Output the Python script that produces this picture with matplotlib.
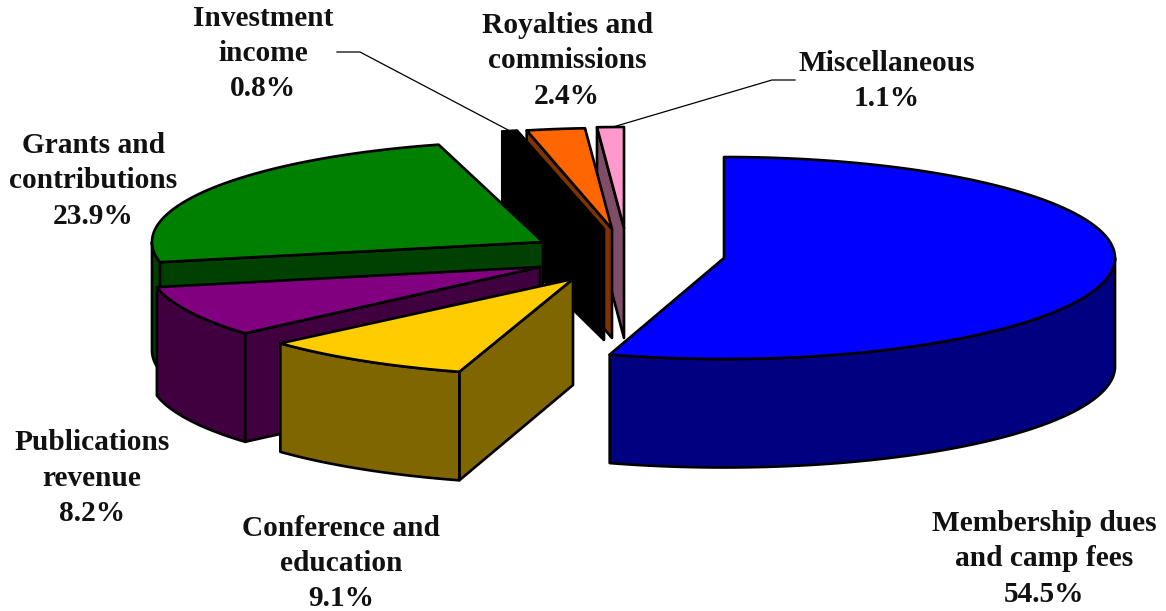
import numpy as np
import matplotlib
matplotlib.use("Agg")
import matplotlib.pyplot as plt
from matplotlib.patches import Polygon

# data (clockwise from 12 o'clock)
categories = ["Membership dues\nand camp fees", "Conference and\neducation", "Publications\nrevenue",
              "Grants and\ncontributions", "Investment\nincome", "Royalties and\ncommissions", "Miscellaneous"]
shares = [54.5, 9.1, 8.2, 23.9, 0.8, 2.4, 1.1]
top_colors = ["#0000FF", "#FFCC00", "#800080", "#008000", "#000000", "#FF6600", "#FF99CC"]
side_colors = ["#000080", "#806600", "#400040", "#004000", "#000000", "#803300", "#804D66"]

# layout in pixels and small projection corrections in degrees
apex_x = [724, 573, 540, 543, 604, 612, 624]
apex_y = [258, 279, 267, 242, 229, 229, 228]
apex_drop = [109, 106, 109, 109, 111, 109, 110]
radius_y = [101, 97, 101, 101, 101, 101, 101]
start_trim_deg = [0, 0.7, 0, 0, 0.4, 0, 0]
end_trim_deg = [0.8, -0.5, 0, 0, -0.25, 0, 0]
label_x = [1044, 341, 92, 93, 263, 567, 887]
label_y = [559, 563.5, 478, 181, 53.5, 61, 81]
draw_order = [6, 5, 4, 3, 2, 1, 0]
RX, H = 391, 108.5
LW = 1.9

fig = plt.figure(figsize=(11.66, 6.11), dpi=100)
ax = fig.add_axes([0, 0, 1, 1])
ax.set_xlim(0, 1166)
ax.set_ylim(611, 0)
ax.axis("off")

edges = np.cumsum([0] + shares) / sum(shares) * 2 * np.pi


def rim(i, a):
    return np.column_stack([apex_x[i] + RX * np.sin(a), apex_y[i] - radius_y[i] * np.cos(a)])


def poly(pts, color, z):
    ax.add_patch(Polygon(pts, closed=True, facecolor=color, edgecolor="black",
                         linewidth=LW, joinstyle="round", zorder=z))


for z, i in enumerate(draw_order):
    a0 = edges[i] + np.radians(start_trim_deg[i])
    a1 = edges[i + 1] + np.radians(end_trim_deg[i])
    apex = np.array([[apex_x[i], apex_y[i]]], dtype=float)
    drop = np.array([0, H])
    base = 10 * z
    # cut faces turned towards the viewer
    for ang, vis in ((a0, np.sin(a0) < -1e-6), (a1, np.sin(a1) > 1e-6)):
        if vis:
            p = rim(i, np.array([ang]))
            poly(np.vstack([apex, p, p + drop, apex + [0, apex_drop[i]]]), side_colors[i], base + 1)
    # outer wall on the near half of the ellipse
    lo, hi = max(a0, np.pi / 2), min(a1, 3 * np.pi / 2)
    if hi > lo:
        arc = rim(i, np.linspace(lo, hi, 160))
        poly(np.vstack([arc, (arc + drop)[::-1]]), side_colors[i], base + 2)
    # top face
    arc = rim(i, np.linspace(a0, a1, 240))
    poly(np.vstack([apex, arc]), top_colors[i], base + 3)

# leader lines
ax.plot([337, 360, 510], [52, 52, 131], color="black", lw=0.9, zorder=200)
ax.plot([795, 772, 613], [80, 80, 127], color="black", lw=0.9, zorder=200)

for name, v, x, y in zip(categories, shares, label_x, label_y):
    ax.text(x, y, f"{name}\n{v}%", ha="center", va="center", multialignment="center",
            family="Liberation Serif", fontweight="bold", fontsize=21.2, linespacing=1.385,
            color="#111111", zorder=300)

fig.savefig("out.png", dpi=100)
